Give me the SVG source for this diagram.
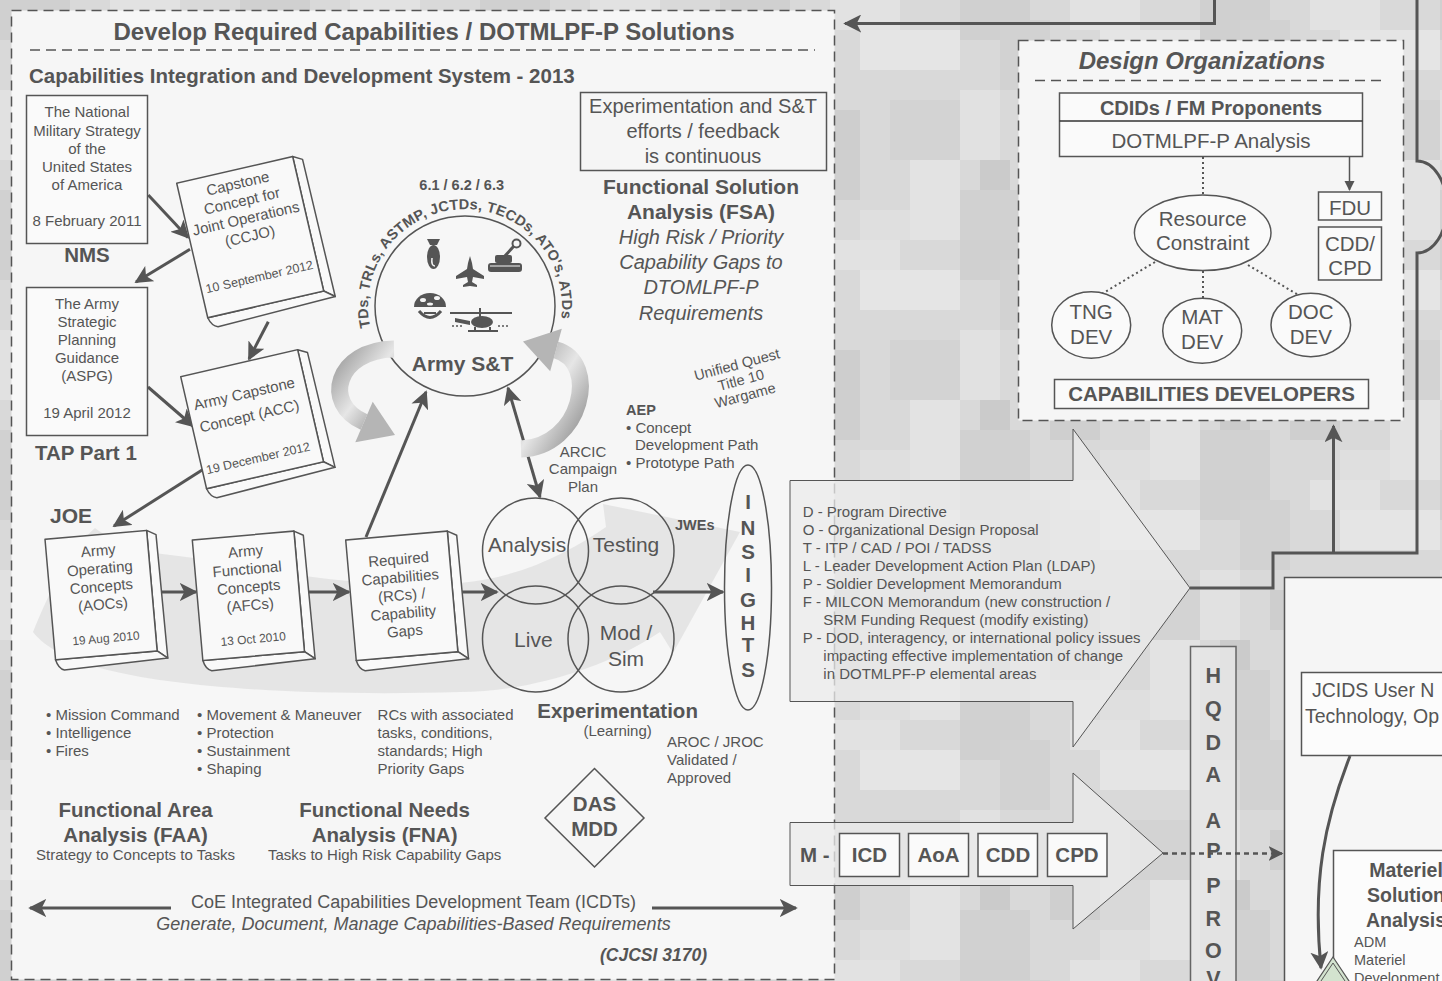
<svg xmlns="http://www.w3.org/2000/svg" width="1442" height="981" viewBox="0 0 1442 981">
<style>
text{font-family:"Liberation Sans",Arial,sans-serif;fill:#555}
.b{font-weight:bold}
.i{font-style:italic}
.m{text-anchor:middle}
.s12{font-size:12px}.s13{font-size:12.5px}.s14{font-size:14.5px}.s15{font-size:15px}.s18{font-size:18px}
.s19{font-size:19.5px}.s20{font-size:20.5px}.s21{font-size:21px}.s22{font-size:21.5px}.s23{font-size:23px}.s24{font-size:24px}
.ln{stroke:#555;stroke-width:3;fill:none}
.thin{stroke:#555;stroke-width:1.5;fill:none}
.box{fill:#fafafa;stroke:#555;stroke-width:1.5}
.dash{fill:none;stroke:#555;stroke-width:1.5;stroke-dasharray:10 6}
.dot{stroke:#555;stroke-width:2;stroke-dasharray:2 3;fill:none}
.bk{fill:#f9f9f9;stroke:#555;stroke-width:1.5;stroke-linejoin:round}
</style>
<defs>
<pattern id="camo" width="240" height="240" patternUnits="userSpaceOnUse">
<rect width="240" height="240" fill="#d9d9d9"/>
<rect x="0" y="0" width="70" height="40" fill="#d0d0d0"/>
<rect x="40" y="20" width="50" height="70" fill="#d2d2d2"/>
<rect x="110" y="0" width="70" height="30" fill="#e2e2e2"/>
<rect x="140" y="30" width="100" height="40" fill="#e5e5e5"/>
<rect x="0" y="90" width="40" height="70" fill="#e1e1e1"/>
<rect x="70" y="110" width="70" height="40" fill="#cecece"/>
<rect x="90" y="150" width="50" height="50" fill="#cfcfcf"/>
<rect x="170" y="100" width="70" height="60" fill="#d3d3d3"/>
<rect x="190" y="160" width="50" height="80" fill="#e3e3e3"/>
<rect x="0" y="190" width="70" height="50" fill="#d1d1d1"/>
<rect x="140" y="210" width="50" height="30" fill="#dfdfdf"/>
<rect x="20" y="160" width="30" height="30" fill="#cbcbcb"/>
</pattern>
<marker id="ah" viewBox="0 0 10 10" refX="9" refY="5" markerWidth="6" markerHeight="6" orient="auto-start-reverse" markerUnits="strokeWidth">
<path d="M0,0 L10,5 L0,10 L2.5,5 Z" fill="#555"/>
</marker>
<marker id="ahs" viewBox="0 0 10 10" refX="9" refY="5" markerWidth="7" markerHeight="7" orient="auto" markerUnits="strokeWidth">
<path d="M0,0 L10,5 L0,10 Z" fill="#555"/>
</marker>
<linearGradient id="sw" x1="0" y1="0" x2="1" y2="1">
<stop offset="0" stop-color="#9a9a9a"/>
<stop offset="0.5" stop-color="#e6e6e6"/>
<stop offset="1" stop-color="#8a8a8a"/>
</linearGradient>
</defs>

<!-- background -->
<rect width="1442" height="981" fill="url(#camo)"/>

<!-- main panel -->
<g id="panel-develop">
<rect x="11.5" y="10.5" width="823" height="969" fill="#f8f8f8" fill-opacity="0.92"/>
<rect x="11.5" y="10.5" width="823" height="969" class="dash"/>
<text x="424" y="40" class="b m s24">Develop Required Capabilities / DOTMLPF-P Solutions</text>
<path d="M30,50 H815" class="dash"/>
<text x="29" y="83" class="b s20">Capabilities Integration and Development System - 2013</text>
</g>

<!-- design organizations panel -->
<g id="panel-design">
<rect x="1018.5" y="40.5" width="385" height="380" fill="#f8f8f8" fill-opacity="0.92"/>
<rect x="1018.5" y="40.5" width="385" height="380" class="dash"/>
<text x="1202" y="69" class="b i m s24">Design Organizations</text>
<path d="M1035,80.5 H1383" class="dash"/>
</g>

<!-- right panel -->
<g id="panel-materiel">
<rect x="1284.5" y="577.5" width="170" height="420" fill="#f8f8f8" fill-opacity="0.94" stroke="#555" stroke-width="1.5"/>
</g>

<!-- decorative flow band behind concepts -->
<path d="M33,632 C50,590 70,550 95,528 C110,540 140,552 170,555 C260,565 330,590 460,583 C520,578 570,552 606,527 L603,504 L740,532 L673,653 L660,632 C600,672 520,692 460,692 C330,696 180,690 100,668 C70,660 45,648 33,632 Z" fill="#e2e2e2" fill-opacity="0.85"/>

<!-- large process arrows -->
<g id="arrow-dotmlpf">
<path d="M790,480.5 H1073 V429 L1190,588 L1073,747 V701.5 H790 Z" fill="#ebebeb" fill-opacity="0.75" stroke="#555" stroke-width="1"/>
<text class="s15" x="802.7" y="517">D - Program Directive</text>
<text class="s15" x="802.7" y="535">O - Organizational Design Proposal</text>
<text class="s15" x="802.7" y="553">T - ITP / CAD / POI / TADSS</text>
<text class="s15" x="802.7" y="571">L - Leader Development Action Plan (LDAP)</text>
<text class="s15" x="802.7" y="589">P - Soldier Development Memorandum</text>
<text class="s15" x="802.7" y="607">F - MILCON Memorandum (new construction /</text>
<text class="s15" x="823.3" y="625">SRM Funding Request (modify existing)</text>
<text class="s15" x="802.7" y="643">P - DOD, interagency, or international policy issues</text>
<text class="s15" x="823.3" y="661">impacting effective implementation of change</text>
<text class="s15" x="823.3" y="679">in DOTMLPF-P elemental areas</text>
</g>
<g id="arrow-materiel">
<path d="M790,822.5 H1073 V773 L1163,853 L1073,929 V885.5 H790 Z" fill="#ebebeb" fill-opacity="0.75" stroke="#555" stroke-width="1"/>
<text class="b s20" x="800" y="862">M -</text>
<rect class="box" x="839.5" y="833.5" width="60" height="43"/>
<rect class="box" x="908.5" y="833.5" width="60" height="43"/>
<rect class="box" x="978" y="833.5" width="59.5" height="43"/>
<rect class="box" x="1047.5" y="833.5" width="59.5" height="43"/>
<text class="b m s20" x="869.5" y="862">ICD</text>
<text class="b m s20" x="938.5" y="862">AoA</text>
<text class="b m s20" x="1008" y="862">CDD</text>
<text class="b m s20" x="1077" y="862">CPD</text>
</g>

<!-- HQDA approval column -->
<g id="hqda">
<rect x="1190.5" y="646.5" width="45.5" height="360" fill="#e6e6e6" fill-opacity="0.85" stroke="#666" stroke-width="1.5"/>
<g class="b m s22">
<text x="1213.3" y="683">H</text>
<text x="1213.3" y="716">Q</text>
<text x="1213.3" y="750">D</text>
<text x="1213.3" y="782">A</text>
<text x="1213.3" y="828">A</text>
<text x="1213.3" y="858">P</text>
<text x="1213.3" y="893">P</text>
<text x="1213.3" y="926">R</text>
<text x="1213.3" y="958">O</text>
<text x="1213.3" y="986">V</text>
</g>
</g>

<!-- connectors -->
<g id="connectors">
<path class="ln" d="M1214.5,0 V23.5 H845" marker-end="url(#ah)"/>
<path class="ln" d="M1417,0 V161 A30 46 0 0 1 1417,253 V553 H1273 V588 H1190"/>
<path class="ln" d="M1333.5,553 V426" marker-end="url(#ah)"/>
<path d="M1163,853.5 H1282" stroke="#555" stroke-width="2.5" stroke-dasharray="5 4" fill="none" marker-end="url(#ah)"/>
<path class="ln" d="M1350,756 C1325,820 1312,880 1321,968" stroke-width="2.5" marker-end="url(#ah)"/>
<!-- document flow -->
<path class="ln" d="M148.3,195 L188,237.5" marker-end="url(#ah)"/>
<path class="ln" d="M190,249.3 L136,282" marker-end="url(#ah)"/>
<path class="ln" d="M148,387 L193,426" marker-end="url(#ah)"/>
<path class="ln" d="M268.3,321.7 L249,359" marker-end="url(#ah)"/>
<path class="ln" d="M210,465 L114,526" marker-end="url(#ah)"/>
<path class="ln" d="M162,592 H196" marker-end="url(#ah)"/>
<path class="ln" d="M308,592 H349" marker-end="url(#ah)"/>
<path class="ln" d="M461,592 H497" marker-end="url(#ah)"/>
<path class="ln" d="M653,592 H723" marker-end="url(#ah)"/>
<path class="ln" d="M366,537 L426,392" marker-end="url(#ah)"/>
<path class="ln" d="M508,388 L540,497" marker-start="url(#ah)" marker-end="url(#ah)"/>
<path class="ln" d="M171,908 H30" marker-end="url(#ah)"/>
<path class="ln" d="M652,908 H796" marker-end="url(#ah)"/>
<!-- design organization links -->
<path class="thin" d="M1349.5,157 V190" marker-end="url(#ahs)"/>
<path class="dot" d="M1203,157 V194"/>
<path class="dot" d="M1155,262 L1100,295"/>
<path class="dot" d="M1203,271 V298"/>
<path class="dot" d="M1248,265 L1300,296"/>
</g>

<!-- NMS -->
<g id="nms">
<rect class="box" x="26.5" y="95.5" width="121" height="148"/>
<g class="m s15">
<text x="87" y="117">The National</text>
<text x="87" y="135.5">Military Strategy</text>
<text x="87" y="153.5">of the</text>
<text x="87" y="172">United States</text>
<text x="87" y="190">of America</text>
<text x="87" y="226">8 February 2011</text>
</g>
<text x="87" y="262" class="b m s20">NMS</text>
</g>

<!-- ASPG -->
<g id="aspg">
<rect class="box" x="26.5" y="287.5" width="121" height="148"/>
<g class="m s15">
<text x="87" y="309">The Army</text>
<text x="87" y="327">Strategic</text>
<text x="87" y="345">Planning</text>
<text x="87" y="363">Guidance</text>
<text x="87" y="381">(ASPG)</text>
<text x="87" y="418">19 April 2012</text>
</g>
<text x="35" y="460" class="b s20">TAP Part 1</text>
</g>

<!-- CCJO book -->
<g id="ccjo" transform="translate(176.7,183.3) rotate(-13)">
<path class="bk" d="M119,0 L128,5 L129,146 L119,138 Z"/>
<path class="bk" d="M0,138 L119,138 L129,146 L8,149 Q2,147 0,138 Z"/>
<rect class="bk" x="0" y="0" width="119" height="138"/>
<g class="m s15">
<text x="59.5" y="19">Capstone</text>
<text x="59.5" y="37">Concept for</text>
<text x="59.5" y="55">Joint Operations</text>
<text x="59.5" y="73">(CCJO)</text>
</g>
<text x="59.5" y="114" class="m s13">10 September 2012</text>
</g>

<!-- ACC book -->
<g id="acc" transform="translate(180.7,376.7) rotate(-13)">
<path class="bk" d="M120,0 L129,5 L130,123 L120,115 Z"/>
<path class="bk" d="M0,115 L120,115 L130,123 L8,126 Q2,124 0,115 Z"/>
<rect class="bk" x="0" y="0" width="120" height="115"/>
<g class="m s15">
<text x="58" y="36">Army Capstone</text>
<text x="58" y="59">Concept (ACC)</text>
</g>
<text x="57" y="101" class="m s13">19 December 2012</text>
</g>

<text x="50" y="523" class="b s21">JOE</text>

<!-- AOCs book -->
<g id="aocs" transform="translate(45,539.3) rotate(-5)">
<path class="bk" d="M102,0 L111,5 L112,129 L102,121 Z"/>
<path class="bk" d="M0,121 L102,121 L112,129 L8,132 Q2,130 0,121 Z"/>
<rect class="bk" x="0" y="0" width="102" height="121"/>
<g class="m s15">
<text x="52" y="21">Army</text>
<text x="52" y="39">Operating</text>
<text x="52" y="57">Concepts</text>
<text x="52" y="75">(AOCs)</text>
</g>
<text x="52" y="108" class="m s12">19 Aug 2010</text>
</g>

<!-- AFCs book -->
<g id="afcs" transform="translate(192.3,540) rotate(-5)">
<path class="bk" d="M102,0 L111,5 L112,129 L102,121 Z"/>
<path class="bk" d="M0,121 L102,121 L112,129 L8,132 Q2,130 0,121 Z"/>
<rect class="bk" x="0" y="0" width="102" height="121"/>
<g class="m s15">
<text x="52" y="21">Army</text>
<text x="52" y="39">Functional</text>
<text x="52" y="57">Concepts</text>
<text x="52" y="75">(AFCs)</text>
</g>
<text x="52" y="108" class="m s12">13 Oct 2010</text>
</g>

<!-- RCs book -->
<g id="rcs" transform="translate(345.7,540) rotate(-5)">
<path class="bk" d="M102,0 L111,5 L112,129 L102,121 Z"/>
<path class="bk" d="M0,121 L102,121 L112,129 L8,132 Q2,130 0,121 Z"/>
<rect class="bk" x="0" y="0" width="102" height="121"/>
<g class="m s15">
<text x="51" y="29">Required</text>
<text x="51" y="47">Capabilities</text>
<text x="51" y="65">(RCs) /</text>
<text x="51" y="83">Capability</text>
<text x="51" y="101">Gaps</text>
</g>
</g>

<!-- Army S&T -->
<g id="army-st">
<text x="461.7" y="190" class="b m s14">6.1 / 6.2 / 6.3</text>
<circle cx="465" cy="306" r="90" fill="none" stroke="#555" stroke-width="1.5"/>
<path id="starc" d="M370.3,327.2 A97 97 0 1 1 560.9,320.5" fill="none"/>
<text class="b s14"><textPath href="#starc" textLength="338" lengthAdjust="spacing">TDs, TRLs, ASTMP, JCTDs, TECDs, ATO's, ATDs</textPath></text>
<g fill="#555">
<!-- bomb -->
<path d="M427,239 H440 L437,245 H430 Z"/>
<ellipse cx="433.5" cy="257" rx="6.5" ry="12"/>
<path d="M432,258 Q431,266 435,266" stroke="#f5f5f5" stroke-width="1.5" fill="none"/>
<!-- jet -->
<path d="M470,256 L472,263 L473,269 L484,276 L484,279 L473,277 L472,282 L477,285 L477,287 L470,286 L463,287 L463,285 L468,282 L467,277 L456,279 L456,276 L467,269 L468,263 Z"/>
<!-- tank -->
<rect x="488" y="263" width="34" height="9" rx="3"/>
<rect x="495" y="255" width="17" height="8" rx="2"/>
<path d="M504,257 L514,246" stroke="#555" stroke-width="3"/>
<circle cx="516.5" cy="243.5" r="4" fill="none" stroke="#555" stroke-width="2"/>
<path d="M490,266 H520" stroke="#f5f5f5" stroke-width="1"/>
<!-- helmet -->
<path d="M414,307 A16 14 0 0 1 446,307 Z"/>
<ellipse cx="423" cy="300" rx="3" ry="2" fill="#f5f5f5"/>
<ellipse cx="437" cy="298" rx="3" ry="2" fill="#f5f5f5"/>
<ellipse cx="430" cy="304" rx="3" ry="1.5" fill="#f5f5f5"/>
<path d="M419,311 Q430,324 441,311" stroke="#555" stroke-width="3" fill="none"/>
<path d="M424,313 H436" stroke="#555" stroke-width="2"/>
<!-- helicopter -->
<path d="M450,313 H512" stroke="#555" stroke-width="2"/>
<path d="M480,308 V317" stroke="#555" stroke-width="2"/>
<ellipse cx="482" cy="322" rx="11" ry="6"/>
<path d="M470,321 L455,318 L455,322 L470,325 Z"/>
<path d="M468,331 H498" stroke="#555" stroke-width="2"/>
<path d="M475,327 V331 M490,327 V331" stroke="#555" stroke-width="2"/>
<path d="M452,326 H464 M498,326 H510" stroke="#555" stroke-width="1.5" stroke-dasharray="2 2"/>
</g>
<text x="462.5" y="371" class="b m s21">Army S&amp;T</text>
<!-- rotation arrows -->
<path d="M394,349 C336,350 322,404 364,422" fill="none" stroke="url(#sw)" stroke-width="17"/>
<polygon points="355.3,442.2 372.7,401.8 395,435" fill="#b5b5b5"/>
<path d="M521,449 C582,447 600,362 556,350" fill="none" stroke="url(#sw)" stroke-width="17"/>
<polygon points="561.8,328.8 550.2,371.2 523,341.6" fill="#b5b5b5"/>
</g>

<!-- experimentation -->
<g id="experimentation">
<circle cx="535.5" cy="551" r="53" fill="none" stroke="#555" stroke-width="1.5"/>
<circle cx="621" cy="551" r="53" fill="none" stroke="#555" stroke-width="1.5"/>
<circle cx="535.5" cy="639" r="53" fill="none" stroke="#555" stroke-width="1.5"/>
<circle cx="621" cy="639" r="53" fill="none" stroke="#555" stroke-width="1.5"/>
<g class="m s21">
<text x="527.2" y="552">Analysis</text>
<text x="626" y="552">Testing</text>
<text x="533.3" y="646.5">Live</text>
<text x="626" y="640">Mod /</text>
<text x="626" y="665.5">Sim</text>
</g>
<text x="617.6" y="718" class="b m s20">Experimentation</text>
<text x="617.6" y="736" class="m s15">(Learning)</text>
<g class="m s15">
<text x="583" y="457">ARCIC</text>
<text x="583" y="474">Campaign</text>
<text x="583" y="492">Plan</text>
</g>
<text x="675" y="530" class="b s14">JWEs</text>
<text x="626" y="415" class="b s14">AEP</text>
<text x="626" y="433" class="s15">• Concept</text>
<text x="635" y="450" class="s15">Development Path</text>
<text x="626" y="468" class="s15">• Prototype Path</text>
<g transform="rotate(-15 741 380)" class="m s14">
<text x="741" y="369">Unified Quest</text>
<text x="741" y="385">Title 10</text>
<text x="741" y="401">Wargame</text>
</g>
</g>

<!-- insights -->
<g id="insights">
<ellipse cx="748" cy="587.5" rx="23.5" ry="122.5" fill="none" stroke="#555" stroke-width="1.5"/>
<g class="b m" style="font-size:20.5px">
<text x="748" y="509">I</text>
<text x="748" y="535">N</text>
<text x="748" y="559">S</text>
<text x="748" y="582">I</text>
<text x="748" y="607">G</text>
<text x="748" y="630">H</text>
<text x="748" y="652">T</text>
<text x="748" y="677">S</text>
</g>
</g>

<!-- continuous feedback note and FSA -->
<g id="fsa">
<rect x="580.5" y="92.5" width="246" height="78" fill="none" stroke="#555" stroke-width="1.5"/>
<g class="m" style="font-size:20px">
<text x="703" y="113">Experimentation and S&amp;T</text>
<text x="703" y="138">efforts / feedback</text>
<text x="703" y="163">is continuous</text>
</g>
<text x="701" y="194" class="b m s21">Functional Solution</text>
<text x="701" y="219" class="b m s21">Analysis (FSA)</text>
<g class="i m" style="font-size:20px">
<text x="701" y="244">High Risk / Priority</text>
<text x="701" y="269">Capability Gaps to</text>
<text x="701" y="294">DTOMLPF-P</text>
<text x="701" y="320">Requirements</text>
</g>
</g>

<!-- lower text blocks -->
<g id="faa">
<text class="s15" x="46" y="720">• Mission Command</text>
<text class="s15" x="46" y="738">• Intelligence</text>
<text class="s15" x="46" y="756">• Fires</text>
<text x="135.5" y="817" class="b m s20">Functional Area</text>
<text x="135.5" y="842" class="b m s20">Analysis (FAA)</text>
<text x="135.5" y="860" class="m s15">Strategy to Concepts to Tasks</text>
</g>
<g id="fna">
<text class="s15" x="197" y="720">• Movement &amp; Maneuver</text>
<text class="s15" x="197" y="738">• Protection</text>
<text class="s15" x="197" y="756">• Sustainment</text>
<text class="s15" x="197" y="774">• Shaping</text>
<text class="s15" x="377.6" y="720">RCs with associated</text>
<text class="s15" x="377.6" y="738">tasks, conditions,</text>
<text class="s15" x="377.6" y="756">standards; High</text>
<text class="s15" x="377.6" y="774">Priority Gaps</text>
<text x="384.6" y="817" class="b m s20">Functional Needs</text>
<text x="384.6" y="842" class="b m s20">Analysis (FNA)</text>
<text x="384.6" y="860" class="m s15">Tasks to High Risk Capability Gaps</text>
</g>
<g id="aroc">
<text class="s15" x="667" y="747">AROC / JROC</text>
<text class="s15" x="667" y="765">Validated /</text>
<text class="s15" x="667" y="783">Approved</text>
</g>
<g id="das-mdd">
<polygon points="594.5,768.5 644,818 594.5,867 545,818" fill="none" stroke="#555" stroke-width="1.5"/>
<text x="594.5" y="811" class="b m s20">DAS</text>
<text x="594.5" y="836" class="b m s20">MDD</text>
</g>
<g id="icdt">
<text x="413.5" y="908" class="m s18">CoE Integrated Capabilities Development Team (ICDTs)</text>
<text x="413.5" y="930" class="i m s18">Generate, Document, Manage Capabilities-Based Requirements</text>
<text x="653.5" y="961" class="b i m" style="font-size:17.5px">(CJCSI 3170)</text>
</g>

<!-- design organizations content -->
<g id="cdids">
<rect class="box" x="1059.5" y="93" width="303" height="63.5"/>
<path d="M1059.5,121 H1362.5" stroke="#333" stroke-width="1.5"/>
<text x="1211" y="115" class="b m" style="font-size:20px">CDIDs / FM Proponents</text>
<text x="1211" y="148" class="m s20">DOTMLPF-P Analysis</text>
</g>
<g id="fdu">
<rect class="box" x="1318.5" y="192" width="63" height="28"/>
<text x="1350" y="214.5" class="m s20">FDU</text>
</g>
<g id="cdd-cpd">
<rect class="box" x="1318.5" y="227" width="63" height="53"/>
<text x="1350" y="251" class="m s20">CDD/</text>
<text x="1350" y="275" class="m s20">CPD</text>
</g>
<g id="resource">
<ellipse cx="1202.7" cy="232.8" rx="68.3" ry="37.8" fill="#fafafa" stroke="#555" stroke-width="1.5"/>
<text x="1202.7" y="226" class="m s20">Resource</text>
<text x="1202.7" y="250" class="m s20">Constraint</text>
</g>
<g id="tng">
<ellipse cx="1091.2" cy="325" rx="39.5" ry="33.3" fill="#fafafa" stroke="#555" stroke-width="1.5"/>
<text x="1091.2" y="319" class="m s20">TNG</text>
<text x="1091.2" y="344" class="m s20">DEV</text>
</g>
<g id="mat">
<ellipse cx="1202.2" cy="330.8" rx="39.5" ry="32.5" fill="#fafafa" stroke="#555" stroke-width="1.5"/>
<text x="1202.2" y="324" class="m s20">MAT</text>
<text x="1202.2" y="349" class="m s20">DEV</text>
</g>
<g id="doc">
<ellipse cx="1310.8" cy="325" rx="39.8" ry="31.7" fill="#fafafa" stroke="#555" stroke-width="1.5"/>
<text x="1310.8" y="319" class="m s20">DOC</text>
<text x="1310.8" y="344" class="m s20">DEV</text>
</g>
<g id="capdev">
<rect class="box" x="1054.5" y="379.5" width="314" height="29"/>
<text x="1211.5" y="401" class="b m s20">CAPABILITIES DEVELOPERS</text>
</g>

<!-- materiel side -->
<g id="jcids">
<rect x="1301.5" y="672.5" width="160" height="83" fill="#fcfcfc" stroke="#555" stroke-width="1.5"/>
<text x="1312" y="697" class="s19">JCIDS User N</text>
<text x="1305" y="723" class="s19">Technology, Op</text>
</g>
<g id="msa">
<rect x="1333.5" y="850.5" width="140" height="150" fill="#fcfcfc" stroke="#555" stroke-width="1.5"/>
<text x="1406" y="877" class="b m s19">Materiel</text>
<text x="1406" y="902" class="b m s19">Solution</text>
<text x="1406" y="927" class="b m s19">Analysis</text>
<text x="1354" y="947" class="s14">ADM</text>
<text x="1354" y="965" class="s14">Materiel</text>
<text x="1354" y="983" class="s14">Development</text>
</g>
<g id="mdd-diamond">
<polygon points="1333,957 1351,984 1333,1011 1315,984" fill="#d3e3cf" stroke="#555" stroke-width="1.2"/>
<polygon points="1333,963 1347,984 1333,1005 1319,984" fill="none" stroke="#555" stroke-width="1"/>
</g>
</svg>
